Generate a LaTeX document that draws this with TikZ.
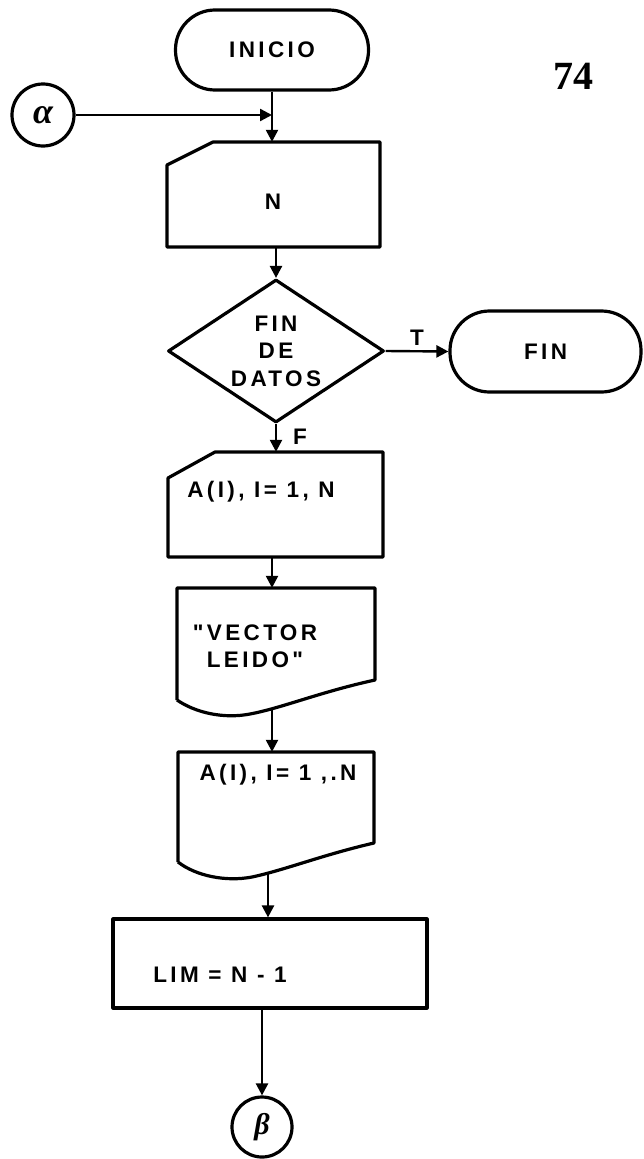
\documentclass[tikz,border=0pt]{standalone}
\usepackage{fontspec}
\setmainfont{Liberation Sans}
\newfontfamily\flowfont[LetterSpace=15]{Liberation Sans}
\newfontfamily\numfont{Liberation Serif}
\usetikzlibrary{arrows.meta,shapes.geometric,calc}
\begin{document}
\begin{tikzpicture}[x=1pt,y=-1pt,
  outl/.style={line width=3.2pt, line join=round},
  conn/.style={line width=2.4pt, -{Triangle[length=12pt,width=12pt]}},
  txt/.style={font=\flowfont\bfseries\fontsize{22.5}{27.5}\selectfont, inner sep=0pt},
  term/.style={draw, outl, rounded corners=39.5pt, txt},
  inv/.style={inner sep=0pt},
  conncirc/.style={draw, outl, circle, inner sep=0pt, minimum size=62pt},
  greek/.style={font=\numfont\bfseries\itshape\fontsize{36}{38}\selectfont},
  dia/.style={draw, outl, diamond, aspect=1.5, inner sep=0pt, align=center, txt, minimum width=216pt, minimum height=143pt}
]
\useasboundingbox (0,0) rectangle (644,1159);

% page number
\node[font=\numfont\bfseries\fontsize{40}{44}\selectfont, inner sep=0pt] (page) at (573,76) {74};

% start terminal
\node[term, minimum width=193pt, minimum height=80pt] (inicio) at (272,50) {INICIO};

% connector alpha
\node[conncirc, greek] (alpha) at (43,115) {α};
\coordinate (j1) at (272,115);

% read card N
\node[inv, minimum width=213pt, minimum height=105pt] (nbox) at (273.5,194.5) {};
\draw[outl] (213,142) -- (380,142) -- (380,247) -- (167,247) -- (167,165) -- cycle;
\node[txt] (ntext) at (273,202) {N};

% decision
\node[dia] (dec) at (276,351) {FIN\\DE\\DATOS};

% end terminal
\node[term, minimum width=191pt, minimum height=81pt] (fin) at (545.5,351.5) {FIN};

% read card A(I)
\node[inv, minimum width=215pt, minimum height=105pt] (a1) at (275.5,504.5) {};
\draw[outl] (215,452) -- (383,452) -- (383,557) -- (168,557) -- (168,478) -- cycle;
\node[txt] (a1text) at (261,492) {A(I), I= 1, N};

% document "VECTOR LEIDO"
\node[inv, minimum width=198pt, minimum height=129pt] (v) at (276,652.5) {};
\draw[outl] (177,700) -- (177,588) -- (375,588) -- (375,680)
  .. controls (320,692) and (282,708) .. (250,714)
  .. controls (224,719) and (196,713) .. (177,700);
\node[txt, align=center] (vtext) at (255,646) {"VECTOR\\LEIDO"};
\coordinate (vout) at (272,709);

% document A(I)
\node[inv, minimum width=196pt, minimum height=128pt] (a2) at (276,816) {};
\draw[outl] (178,862) -- (178,752) -- (374,752) -- (374,843)
  .. controls (322,855) and (285,870) .. (252,877)
  .. controls (226,882) and (196,876) .. (178,862);
\node[txt] (a2text) at (278,775) {A(I), I= 1 ,.N};
\coordinate (a2out) at (268,874);

% process LIM
\node[draw, outl, minimum width=314pt, minimum height=89pt, inner sep=0pt] (lim) at (270,963.5) {};
\node[txt] (limtext) at (220,975) {LIM = N - 1};

% connector beta
\node[conncirc, minimum size=60pt, font=\numfont\bfseries\itshape\fontsize{30}{32}\selectfont] (beta) at (262,1127) {β};

% connectors
\draw[conn] (alpha) -- (j1);
\draw[conn] (inicio.south) -- (inicio.south |- nbox.north);
\draw[conn] (nbox.south -| dec.north) -- (dec.north);
\draw[conn] (dec.east) -- (fin.west) node[midway, above=5pt, txt] {T};
\draw[conn] (dec.south) -- (dec.south |- a1.north) node[pos=0.45, right=16pt, txt] {F};
\draw[conn] (a1.south -| vout) -- (vout |- v.north);
\draw[conn] (vout) -- (vout |- a2.north);
\draw[conn] (a2out) -- (a2out |- lim.north);
\draw[conn] (lim.south -| beta) -- (beta.north);
\end{tikzpicture}
\end{document}
